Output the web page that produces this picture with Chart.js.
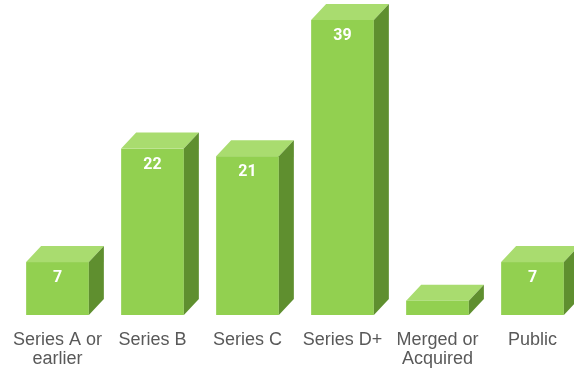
<!DOCTYPE html>
<html>
<head>
<meta charset="utf-8">
<script src="https://cdn.jsdelivr.net/npm/chart.js@4/dist/chart.umd.min.js"></script>
<style>
  html, body { margin: 0; padding: 0; background: #fff; overflow: hidden; }
  #wrap { position: absolute; left: 10px; top: 0; width: 570px; height: 368px; }
</style>
</head>
<body>
<div id="wrap"><canvas id="myChart" width="570" height="368"></canvas></div>
<script>
const categories = [['Series A or', 'earlier'], 'Series B', 'Series C', 'Series D+', ['Merged or', 'Acquired'], 'Public'];
const counts = [7, 22, 21, 39, 1.9, 7];
const shownLabels = ['7', '22', '21', '39', '', '7'];

// 3D 막대 그리기
const box3d = {
    id: 'box3d',
    afterDatasetsDraw(chart) {
        const ctx = chart.ctx;
        const meta = chart.getDatasetMeta(0);
        const dx = 15, dy = 16;
        meta.data.forEach((bar, i) => {
            const left = bar.x - bar.width / 2;
            const right = bar.x + bar.width / 2;
            const top = bar.y;
            const bottom = bar.base;
            ctx.save();
            // 앞면
            ctx.fillStyle = '#92d050';
            ctx.fillRect(left, top, right - left, bottom - top);
            // 윗면
            ctx.fillStyle = '#a9dc6f';
            ctx.beginPath();
            ctx.moveTo(left, top);
            ctx.lineTo(left + dx, top - dy);
            ctx.lineTo(right + dx, top - dy);
            ctx.lineTo(right, top);
            ctx.closePath();
            ctx.fill();
            // 옆면
            ctx.fillStyle = '#5f8f2f';
            ctx.beginPath();
            ctx.moveTo(right, top);
            ctx.lineTo(right + dx, top - dy);
            ctx.lineTo(right + dx, bottom - dy);
            ctx.lineTo(right, bottom);
            ctx.closePath();
            ctx.fill();
            // 값 라벨
            if (shownLabels[i]) {
                ctx.fillStyle = '#ffffff';
                ctx.font = 'bold 16px Roboto, "Liberation Sans", sans-serif';
                ctx.textAlign = 'center';
                ctx.textBaseline = 'middle';
                ctx.fillText(shownLabels[i], bar.x, top + 16);
            }
            ctx.restore();
        });
    }
};

const ctx = document.getElementById('myChart').getContext('2d');
new Chart(ctx, {
    type: 'bar',
    data: {
        labels: categories,
        datasets: [{
            data: counts,
            backgroundColor: 'rgba(0,0,0,0)',
            categoryPercentage: 1,
            barPercentage: 0.66
        }]
    },
    options: {
        responsive: false,
        animation: false,
        events: [],
        layout: { padding: { top: 20, bottom: 0, left: 0, right: 0 } },
        plugins: {
            legend: { display: false },
            tooltip: { enabled: false }
        },
        scales: {
            x: {
                grid: { display: false, drawTicks: false },
                border: { display: false },
                afterFit(scale) {
                    scale.paddingLeft = 0;
                    scale.paddingRight = 0;
                    scale.height = 53;
                },
                ticks: {
                    color: '#595959',
                    padding: 16,
                    maxRotation: 0,
                    autoSkip: false,
                    font: { family: '"Liberation Sans", Arial, sans-serif', size: 18, lineHeight: 1.05 }
                }
            },
            y: {
                display: false,
                min: 0,
                max: 39
            }
        }
    },
    plugins: [box3d]
});
</script>
</body>
</html>
